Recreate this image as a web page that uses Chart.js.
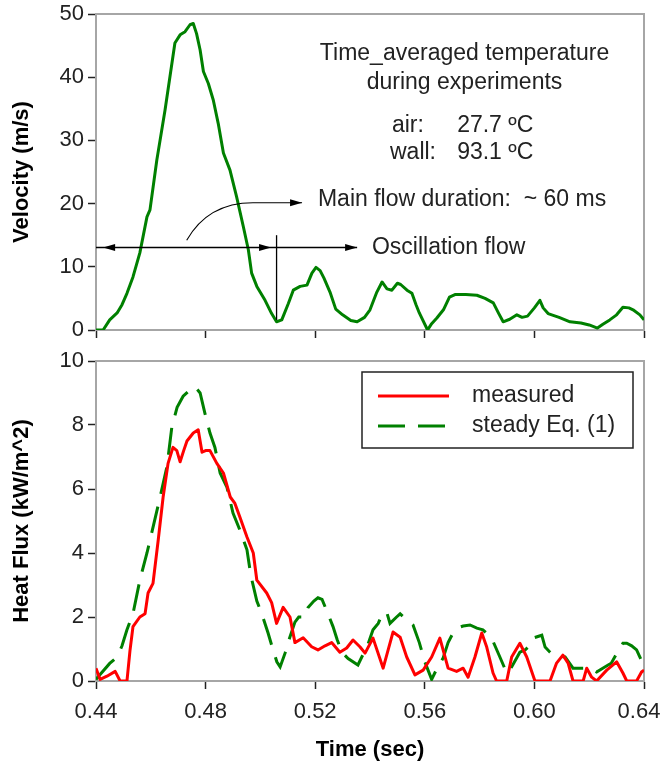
<!DOCTYPE html>
<html>
<head>
<meta charset="utf-8">
<title>Velocity and heat flux</title>
<script src="https://cdn.jsdelivr.net/npm/chart.js@4.4.1/dist/chart.umd.min.js"></script>
<style>
    html, body { margin: 0; padding: 0; background: #fff; }
    #wrap { position: relative; width: 663px; height: 763px; }
    #velocityChart { position: absolute; left: 0; top: 0; }
    #fluxChart { position: absolute; left: 0; top: 345px; }
</style>
</head>
<body>
<div id="wrap">
    <canvas id="velocityChart" width="663" height="345"></canvas>
    <canvas id="fluxChart" width="663" height="418"></canvas>
</div>
<script>
// tick values
const timeTicks = [0.44, 0.48, 0.52, 0.56, 0.60, 0.64];
const velocityTicks = [0, 10, 20, 30, 40, 50];
const fluxTicks = [0, 2, 4, 6, 8, 10];

// velocity (m/s) vs time (sec)
const velTime = [0.4400, 0.4426, 0.4450, 0.4477, 0.4495, 0.4513, 0.4535, 0.4560, 0.4586, 0.4597,
    0.4622, 0.4652, 0.4670, 0.4688, 0.4707, 0.4725, 0.4743, 0.4755, 0.4767, 0.4780,
    0.4792, 0.4810, 0.4828, 0.4846, 0.4865, 0.4889, 0.4913, 0.4938, 0.4956, 0.4968,
    0.4987, 0.5017, 0.5041, 0.5059, 0.5078, 0.5102, 0.5120, 0.5145, 0.5170, 0.5188,
    0.5203, 0.5218, 0.5232, 0.5254, 0.5275, 0.5300, 0.5330, 0.5353, 0.5380, 0.5400,
    0.5425, 0.5444, 0.5462, 0.5480, 0.5500, 0.5512, 0.5535, 0.5553, 0.5568, 0.5580,
    0.5610, 0.5625, 0.5644, 0.5668, 0.5690, 0.5710, 0.5750, 0.5790, 0.5820, 0.5850,
    0.5870, 0.5886, 0.5910, 0.5936, 0.5955, 0.5975, 0.6000, 0.6020, 0.6032, 0.6050,
    0.6090, 0.6130, 0.6170, 0.6200, 0.6230, 0.6250, 0.6275, 0.6300, 0.6323, 0.6345,
    0.6360, 0.6385, 0.6400];
const velocity = [0, 0, 1.6, 2.7, 4.0, 5.8, 8.4, 12.2, 17.9, 19.0,
    26.9, 34.8, 40.1, 45.4, 46.7, 47.2, 48.3, 48.5, 46.9, 44.3,
    40.9, 39.0, 36.4, 32.7, 28.0, 25.3, 21.1, 16.3, 12.7, 9.0,
    6.9, 4.7, 2.6, 1.3, 1.6, 4.2, 6.3, 6.9, 7.1, 9.0,
    9.9, 9.4, 8.2, 6.0, 3.3, 2.4, 1.5, 1.3, 2.0, 3.2,
    6.0, 7.6, 6.5, 6.3, 7.4, 7.2, 6.3, 5.8, 4.0, 2.7,
    0, 1.0, 1.9, 3.2, 5.2, 5.6, 5.6, 5.5, 5.0, 4.3,
    2.6, 1.3, 1.7, 2.4, 2.0, 2.2, 3.5, 4.7, 3.5, 2.6,
    2.0, 1.3, 1.1, 0.8, 0.3, 0.9, 1.6, 2.4, 3.6, 3.5,
    3.2, 2.4, 1.6];

// heat flux (kW/m^2), measured
const measTime = [0.4400, 0.4415, 0.4440, 0.4470, 0.4488, 0.4513, 0.4524, 0.4535, 0.4560, 0.4579,
    0.4590, 0.4608, 0.4627, 0.4645, 0.4663, 0.4681, 0.4695, 0.4707, 0.4720, 0.4732,
    0.4755, 0.4773, 0.4787, 0.4800, 0.4816, 0.4841, 0.4865, 0.4890, 0.4907, 0.4926,
    0.4951, 0.4974, 0.4987, 0.5023, 0.5041, 0.5059, 0.5083, 0.5108, 0.5126, 0.5156,
    0.5187, 0.5210, 0.5236, 0.5260, 0.5290, 0.5315, 0.5338, 0.5363, 0.5382, 0.5411,
    0.5448, 0.5484, 0.5510, 0.5534, 0.5564, 0.5594, 0.5625, 0.5655, 0.5685, 0.5716,
    0.5740, 0.5758, 0.5783, 0.5808, 0.5826, 0.5849, 0.5862, 0.5899, 0.5917, 0.5947,
    0.5972, 0.6002, 0.6057, 0.6081, 0.6104, 0.6123, 0.6141, 0.6178, 0.6191, 0.6209,
    0.6227, 0.6264, 0.6300, 0.6323, 0.6337, 0.6373, 0.6391, 0.6400];
const measuredFlux = [0.40, 0.05, 0.15, 0.30, 0.00, 0.00, 0.95, 1.70, 2.00, 2.10,
    2.75, 3.05, 4.40, 5.75, 6.80, 7.30, 7.20, 6.85, 7.20, 7.50,
    7.75, 7.85, 7.15, 7.20, 7.20, 6.80, 6.50, 5.75, 5.55, 5.10,
    4.50, 4.00, 3.15, 2.75, 2.45, 1.80, 2.30, 2.00, 1.20, 1.35,
    1.07, 0.97, 1.10, 1.20, 0.90, 1.03, 1.28, 1.07, 0.87, 1.34,
    0.40, 1.53, 1.37, 0.75, 0.19, 0.34, 0.75, 1.34, 0.40, 0.30,
    0.40, 0.12, 0.75, 1.50, 1.06, 0.25, 0.00, 0.00, 0.75, 1.18,
    0.75, 0.00, 0.00, 0.56, 0.81, 0.56, 0.00, 0.00, 0.40, 0.12,
    0.00, 0.34, 0.60, 0.25, 0.00, 0.00, 0.28, 0.34];

// heat flux (kW/m^2), steady Eq. (1)
const steadyTime = [0.4400, 0.4415, 0.4450, 0.4477, 0.4495, 0.4513, 0.4535, 0.4560, 0.4586, 0.4608,
    0.4634, 0.4659, 0.4677, 0.4696, 0.4718, 0.4743, 0.4761, 0.4780, 0.4798, 0.4816,
    0.4834, 0.4853, 0.4878, 0.4900, 0.4926, 0.4951, 0.4965, 0.4987, 0.5005, 0.5028,
    0.5041, 0.5060, 0.5072, 0.5090, 0.5101, 0.5126, 0.5140, 0.5163, 0.5174, 0.5195,
    0.5210, 0.5225, 0.5242, 0.5265, 0.5280, 0.5297, 0.5320, 0.5356, 0.5370, 0.5388,
    0.5411, 0.5430, 0.5445, 0.5461, 0.5473, 0.5497, 0.5510, 0.5535, 0.5557, 0.5580,
    0.5600, 0.5625, 0.5645, 0.5667, 0.5685, 0.5703, 0.5716, 0.5740, 0.5765, 0.5790,
    0.5812, 0.5844, 0.5874, 0.5899, 0.5917, 0.5947, 0.5966, 0.5984, 0.5995, 0.6027,
    0.6039, 0.6057, 0.6068, 0.6112, 0.6141, 0.6178, 0.6214, 0.6227, 0.6269, 0.6280,
    0.6300, 0.6323, 0.6337, 0.6355, 0.6373, 0.6385, 0.6400];
const steadyFlux = [0.05, 0.20, 0.55, 0.75, 1.10, 1.60, 2.10, 3.15, 4.00, 4.80,
    5.75, 6.70, 7.95, 8.55, 8.90, 9.10, 9.20, 9.00, 8.35, 7.75,
    7.30, 6.50, 6.05, 5.25, 4.70, 4.10, 3.30, 2.50, 2.10, 1.50,
    1.12, 0.60, 0.44, 0.87, 1.20, 1.84, 2.00, 2.00, 2.30, 2.50,
    2.60, 2.55, 2.20, 1.70, 1.30, 0.90, 0.70, 0.50, 0.75, 1.03,
    1.60, 1.80, 2.10, 2.15, 1.80, 2.00, 2.10, 1.90, 1.75, 1.20,
    0.60, 0.05, 0.40, 0.72, 1.20, 1.50, 1.65, 1.72, 1.75, 1.65,
    1.60, 1.34, 0.75, 0.25, 0.44, 0.90, 0.97, 1.12, 1.34, 1.43,
    1.06, 0.90, 0.81, 0.75, 0.40, 0.40, 0.34, 0.28, 0.50, 0.55,
    0.85, 1.18, 1.18, 1.10, 0.97, 0.75, 0.44];

const FONT = 'Arial, "Liberation Sans", sans-serif';
Chart.defaults.font.family = FONT;
Chart.defaults.color = '#222';

function toPoints(xs, ys) {
    return xs.map((t, i) => ({ x: t, y: ys[i] }));
}

// gray frame round the plot area (top and right sides show)
const plotFrame = {
    id: 'plotFrame',
    beforeDatasetsDraw(chart) {
        const { ctx, chartArea: a } = chart;
        ctx.save();
        ctx.strokeStyle = '#a6a6a6';
        ctx.lineWidth = 2;
        ctx.strokeRect(a.left, a.top, a.right - a.left, a.bottom - a.top);
        ctx.restore();
    }
};

function arrowHead(ctx, x, y, dir) {
    ctx.beginPath();
    ctx.moveTo(x, y);
    ctx.lineTo(x - dir * 12, y - 3.5);
    ctx.lineTo(x - dir * 12, y + 3.5);
    ctx.closePath();
    ctx.fill();
}

// texts and arrows in the velocity panel
const velocityNotes = {
    id: 'velocityNotes',
    afterDatasetsDraw(chart) {
        const { ctx, scales: { x, y } } = chart;
        const px = t => x.getPixelForValue(t);
        const py = v => y.getPixelForValue(v);
        ctx.save();
        ctx.font = '23px ' + FONT;
        ctx.fillStyle = '#222';
        ctx.textBaseline = 'middle';
        ctx.textAlign = 'center';
        ctx.fillText('Time_averaged temperature', px(0.5745), py(43.8));
        ctx.fillText('during experiments', px(0.5745), py(39.1));
        ctx.textAlign = 'left';
        ctx.fillText('air:', px(0.5480), py(32.4));
        ctx.fillText('27.7 ºC', px(0.5718), py(32.4));
        ctx.fillText('wall:', px(0.5473), py(28.0));
        ctx.fillText('93.1 ºC', px(0.5718), py(28.0));
        ctx.fillText('Main flow duration:  ~ 60 ms', px(0.5210), py(20.6));
        ctx.fillText('Oscillation flow', px(0.5407), py(13.1));

        ctx.strokeStyle = '#000';
        ctx.fillStyle = '#000';
        ctx.lineWidth = 1.3;
        // flow duration line
        const yl = py(13.05);
        ctx.beginPath();
        ctx.moveTo(px(0.44), yl);
        ctx.lineTo(px(0.5353), yl);
        ctx.stroke();
        arrowHead(ctx, px(0.4426), yl, -1);
        arrowHead(ctx, px(0.5039), yl, 1);
        arrowHead(ctx, px(0.5353), yl, 1);
        ctx.beginPath();
        ctx.moveTo(px(0.5059), py(15.0));
        ctx.lineTo(px(0.5059), py(1.6));
        ctx.stroke();
        // leader to "Main flow duration"
        const yc = py(20.14);
        ctx.lineWidth = 1.1;
        ctx.beginPath();
        ctx.moveTo(px(0.4731), py(14.2));
        ctx.quadraticCurveTo(px(0.4809), yc, px(0.4973), yc);
        ctx.lineTo(px(0.5152), yc);
        ctx.stroke();
        arrowHead(ctx, px(0.5152), yc, 1);
        ctx.restore();
    }
};

// boxed legend inside the heat flux panel
const boxLegend = {
    id: 'boxLegend',
    afterDraw(chart) {
        const { ctx, chartArea: a } = chart;
        const left = a.right - 282, top = a.top + 11, w = 271, h = 76;
        ctx.save();
        ctx.fillStyle = '#fff';
        ctx.fillRect(left, top, w, h);
        ctx.strokeStyle = '#222';
        ctx.lineWidth = 1.5;
        ctx.strokeRect(left, top, w, h);
        ctx.font = '23px ' + FONT;
        ctx.textBaseline = 'middle';
        ctx.textAlign = 'left';
        chart.data.datasets.forEach((ds, i) => {
            const yy = top + 24 + i * 30;
            ctx.strokeStyle = ds.borderColor;
            ctx.lineWidth = 3;
            ctx.setLineDash(ds.borderDash || []);
            ctx.beginPath();
            ctx.moveTo(left + 16, yy);
            ctx.lineTo(left + 87, yy);
            ctx.stroke();
            ctx.setLineDash([]);
            ctx.fillStyle = '#222';
            ctx.fillText(ds.label, left + 110, yy);
        });
        ctx.restore();
    }
};

// Excel pulls the last time label in a little
const shiftLastTick = {
    id: 'shiftLastTick',
    beforeDraw(chart) {
        const items = chart.scales.x.getLabelItems();
        const last = items[items.length - 1];
        if (last && !last.shifted) {
            last.options.translation[0] -= 5;
            last.shifted = true;
        }
    }
};

function timeAxis(showLabels, height) {
    return {
        type: 'linear',
        min: 0.44,
        max: 0.64,
        afterBuildTicks: axis => { axis.ticks = timeTicks.map(v => ({ value: v })); },
        afterFit: axis => { axis.height = height; axis.paddingLeft = 0; axis.paddingRight = 0; },
        grid: { drawOnChartArea: false, drawTicks: true, tickLength: 8, tickColor: '#222', tickWidth: 1.5 },
        border: { color: '#222', width: 2 },
        ticks: {
            display: showLabels,
            padding: 10,
            font: { size: 22 },
            color: '#222',
            callback: v => Number(v).toFixed(2)
        },
        title: {
            display: showLabels,
            text: 'Time (sec)',
            font: { size: 22, weight: 'bold' },
            color: '#000',
            padding: { top: 0, bottom: 0 }
        }
    };
}

function valueAxis(tickList, titleText) {
    return {
        min: tickList[0],
        max: tickList[tickList.length - 1],
        afterBuildTicks: axis => { axis.ticks = tickList.map(v => ({ value: v })); },
        afterFit: axis => { axis.width = 96; axis.paddingTop = 0; axis.paddingBottom = 0; },
        grid: { drawOnChartArea: false, drawTicks: true, tickLength: 8, tickColor: '#222', tickWidth: 1.5 },
        border: { color: '#222', width: 2 },
        ticks: { padding: 4, font: { size: 22 }, color: '#222' },
        title: {
            display: true,
            text: titleText,
            font: { size: 22, weight: 'bold' },
            color: '#000',
            padding: { top: 9, bottom: 0 }
        }
    };
}

const commonOptions = {
    responsive: false,
    animation: false,
    events: [],
    plugins: { legend: { display: false }, tooltip: { enabled: false } }
};

new Chart(document.getElementById('velocityChart').getContext('2d'), {
    type: 'line',
    data: {
        datasets: [{
            label: 'Velocity',
            data: toPoints(velTime, velocity),
            borderColor: '#008000',
            borderWidth: 3,
            pointRadius: 0,
            tension: 0,
            borderJoinStyle: 'round'
        }]
    },
    options: {
        ...commonOptions,
        layout: { padding: { left: 0, right: 19, top: 14, bottom: 0 } },
        scales: {
            x: timeAxis(false, 15),
            y: valueAxis(velocityTicks, 'Velocity (m/s)')
        }
    },
    plugins: [plotFrame, velocityNotes]
});

new Chart(document.getElementById('fluxChart').getContext('2d'), {
    type: 'line',
    data: {
        datasets: [
            {
                label: 'measured',
                data: toPoints(measTime, measuredFlux),
                borderColor: '#ff0000',
                borderWidth: 3,
                pointRadius: 0,
                tension: 0,
                borderJoinStyle: 'round'
            },
            {
                label: 'steady Eq. (1)',
                data: toPoints(steadyTime, steadyFlux),
                borderColor: '#008000',
                borderWidth: 3,
                borderDash: [27, 13],
                pointRadius: 0,
                tension: 0
            }
        ]
    },
    options: {
        ...commonOptions,
        layout: { padding: { left: 0, right: 19, top: 16, bottom: 0 } },
        scales: {
            x: timeAxis(true, 82),
            y: valueAxis(fluxTicks, 'Heat Flux (kW/m^2)')
        }
    },
    plugins: [plotFrame, boxLegend, shiftLastTick]
});
</script>
</body>
</html>
